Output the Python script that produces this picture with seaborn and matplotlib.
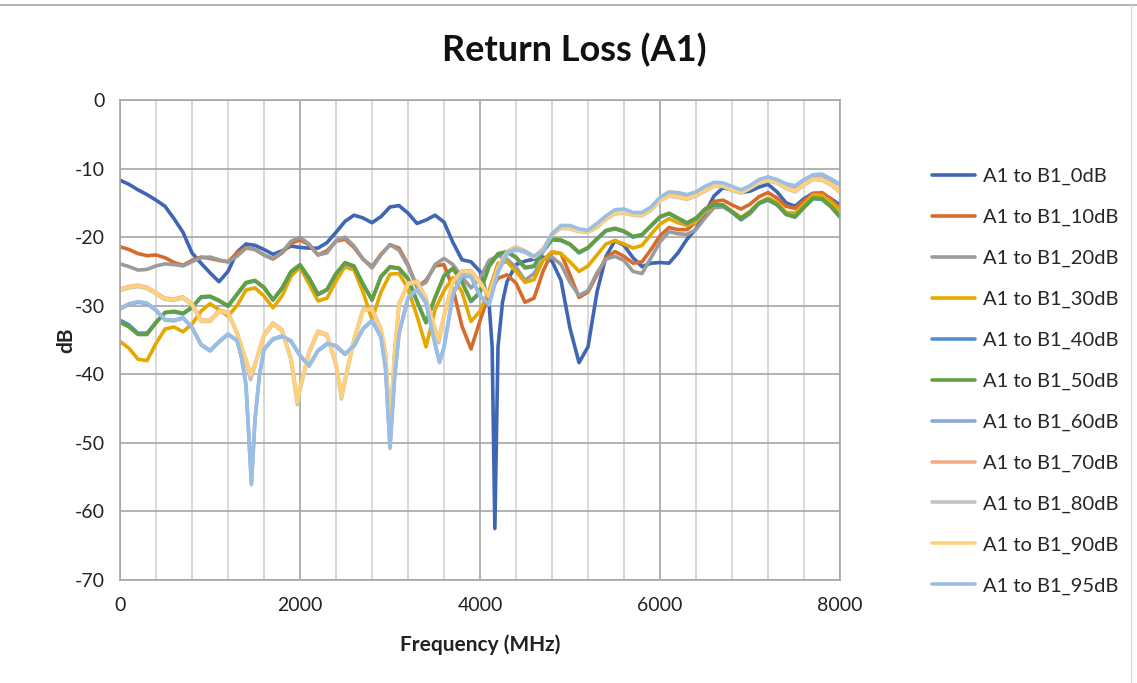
import matplotlib
matplotlib.use("Agg")
import matplotlib.pyplot as plt
from matplotlib.lines import Line2D
import pandas as pd
import seaborn as sns

# ---------------- data ----------------
FREQ = list(range(0, 8001, 100))  # MHz sampling grid

SERIES = ["A1 to B1_0dB", "A1 to B1_10dB", "A1 to B1_20dB", "A1 to B1_30dB",
          "A1 to B1_40dB", "A1 to B1_50dB", "A1 to B1_60dB", "A1 to B1_70dB",
          "A1 to B1_80dB", "A1 to B1_90dB", "A1 to B1_95dB"]

COLORS = ["#3F66B5", "#D86B2C", "#9B9B9B", "#E5A800", "#5090CF", "#62A03E",
          "#8AA6DA", "#F2AB85", "#C2C2C2", "#FFD27A", "#9BBFE4"]

db_0 = [-11.7, -12.3, -13.1, -13.8, -14.6, -15.5, -17.3, -19.3, -22.3, -23.8,
        -25.2, -26.5, -25.0, -22.2, -21.0, -21.2, -21.8, -22.5, -22.0, -21.3,
        -21.5, -21.6, -21.6, -20.8, -19.3, -17.7, -16.8, -17.2, -17.9, -17.0,
        -15.6, -15.4, -16.5, -18.0, -17.5, -16.8, -17.8, -20.8, -23.3, -23.6,
        -25.0, -29.5, -36.0, -26.5, -24.0, -23.5, -23.2, -22.9, -23.5, -26.3,
        -33.3, -38.3, -36.0, -28.0, -22.8, -20.5, -21.2, -23.0, -24.3, -23.8,
        -23.7, -23.8, -22.3, -20.3, -18.8, -16.5, -14.0, -12.8, -13.1, -13.5,
        -13.3, -12.7, -12.3, -13.4, -15.0, -15.5, -14.4, -13.6, -13.6, -14.4,
        -15.3]
extra_f_0 = [4135, 4165, 4250]
extra_db_0 = [-36.0, -62.5, -29.5]

db_10 = [-21.4, -21.8, -22.4, -22.7, -22.6, -23.0, -23.7, -24.1, -23.4, -22.9,
         -23.1, -23.4, -23.6, -22.3, -21.5, -21.8, -22.6, -23.2, -22.3, -20.9,
         -20.4, -21.1, -22.6, -22.0, -20.6, -20.3, -21.5, -23.2, -24.3, -22.5,
         -21.1, -21.6, -24.0, -27.3, -26.3, -24.2, -24.0, -27.5, -33.0, -36.3,
         -32.2, -28.3, -26.0, -25.5, -26.7, -29.5, -28.9, -25.0, -22.2, -22.4,
         -25.5, -28.8, -28.0, -25.5, -23.0, -22.1, -22.8, -23.8, -23.6, -21.8,
         -19.8, -18.6, -18.9, -18.9, -17.8, -16.0, -14.8, -14.6, -15.3, -15.9,
         -15.2, -14.1, -13.5, -14.3, -15.5, -15.8, -14.7, -13.7, -13.5, -14.5,
         -15.8]

db_20 = [-23.9, -24.3, -24.8, -24.7, -24.2, -23.9, -24.0, -24.2, -23.6, -23.0,
         -22.9, -23.3, -23.6, -22.8, -21.6, -21.8, -22.6, -23.1, -22.2, -20.6,
         -20.0, -21.0, -22.6, -22.3, -20.5, -20.0, -21.3, -23.2, -24.5, -22.6,
         -21.1, -21.9, -24.2, -27.3, -26.6, -24.0, -23.1, -24.0, -25.8, -27.4,
         -26.0, -23.4, -22.7, -23.2, -24.4, -26.3, -25.3, -23.3, -22.9, -24.0,
         -26.6, -28.5, -27.8, -25.2, -23.2, -22.8, -23.4, -25.0, -25.3, -23.0,
         -20.7, -19.2, -19.5, -19.6, -18.9, -17.2, -15.7, -15.6, -16.3, -17.5,
         -16.6, -15.1, -14.5, -15.2, -16.5, -17.0, -15.6, -14.3, -14.3, -15.4,
         -16.8]

db_30 = [-35.2, -36.2, -37.8, -38.0, -35.5, -33.4, -33.1, -33.8, -32.7, -30.8,
         -29.7, -30.6, -31.5, -30.0, -27.7, -27.4, -28.6, -30.3, -28.6, -25.7,
         -24.4, -26.8, -29.3, -28.9, -26.4, -24.3, -24.8, -28.0, -32.0, -28.0,
         -25.4, -25.3, -27.5, -31.5, -36.0, -30.6, -27.8, -25.9, -28.0, -32.3,
         -30.8, -27.8, -23.8, -23.6, -25.0, -26.6, -26.2, -23.4, -22.1, -22.4,
         -23.6, -25.0, -24.2, -22.6, -21.0, -20.5, -21.0, -21.6, -21.2, -19.6,
         -18.1, -17.3, -17.9, -18.3, -17.8, -16.3, -15.4, -15.4, -16.2, -17.1,
         -16.3, -15.0, -14.3, -14.9, -16.4, -16.5, -15.2, -13.8, -13.9, -14.9,
         -16.0]

db_40 = [-32.1, -32.8, -34.0, -34.0, -32.4, -31.0, -30.9, -31.2, -30.3, -28.8,
         -28.7, -29.3, -30.1, -28.4, -26.7, -26.4, -27.4, -29.2, -27.5, -25.1,
         -24.1, -26.0, -28.4, -27.7, -25.4, -23.8, -24.3, -26.9, -29.2, -25.8,
         -24.4, -24.6, -26.1, -29.4, -32.5, -28.9, -25.7, -24.6, -26.6, -29.4,
         -28.1, -24.3, -22.5, -22.2, -23.0, -24.5, -24.3, -22.1, -20.4, -20.5,
         -21.1, -22.3, -21.6, -20.3, -19.1, -18.8, -19.2, -20.0, -19.7, -18.4,
         -17.1, -16.6, -17.3, -18.0, -17.3, -16.0, -15.3, -15.4, -16.4, -17.4,
         -16.4, -15.1, -14.6, -15.3, -16.7, -17.1, -15.7, -14.4, -14.5, -15.6,
         -17.1]

db_50 = [-32.4, -33.1, -34.2, -34.2, -32.5, -31.0, -30.8, -31.1, -30.2, -28.7,
         -28.6, -29.2, -30.0, -28.3, -26.6, -26.3, -27.3, -29.1, -27.4, -25.0,
         -24.0, -25.9, -28.3, -27.6, -25.3, -23.7, -24.2, -26.8, -29.1, -25.7,
         -24.3, -24.5, -26.0, -29.3, -32.4, -28.8, -25.6, -24.5, -26.5, -29.3,
         -28.0, -24.2, -22.4, -22.1, -22.9, -24.4, -24.2, -22.0, -20.3, -20.4,
         -21.0, -22.2, -21.5, -20.2, -19.0, -18.7, -19.1, -19.9, -19.6, -18.3,
         -17.0, -16.5, -17.2, -17.9, -17.2, -15.9, -15.2, -15.3, -16.3, -17.3,
         -16.3, -15.0, -14.5, -15.2, -16.6, -17.0, -15.6, -14.3, -14.4, -15.5,
         -17.0]

db_60 = [-30.5, -29.8, -29.5, -29.7, -30.7, -32.1, -32.2, -31.8, -33.2, -35.7,
         -36.6, -35.3, -34.2, -35.1, -41.6, -46.6, -36.4, -34.9, -34.5, -35.2,
         -37.3, -38.8, -36.6, -35.6, -35.9, -37.1, -35.9, -33.4, -32.2, -34.6,
         -50.5, -34.1, -28.9, -27.7, -29.6, -35.6, -36.1, -28.4, -25.6, -25.8,
         -28.6, -29.9, -25.1, -22.4, -21.8, -22.2, -22.9, -22.1, -19.6, -18.4,
         -18.4, -18.9, -19.1, -18.1, -17.0, -16.1, -16.0, -16.5, -16.5, -15.7,
         -14.3, -13.5, -13.6, -13.9, -13.5, -12.7, -12.1, -12.2, -12.7, -13.2,
         -12.6, -11.7, -11.3, -11.7, -12.3, -12.6, -11.7, -11.0, -10.9, -11.6,
         -12.4]
extra_f_60 = [1350, 1460, 1550, 2950, 3050, 3550]
extra_db_60 = [-37.6, -55.8, -40.1, -39.1, -40.6, -38.2]

db_70 = [-27.6, -27.2, -27.0, -27.3, -28.1, -28.9, -29.0, -28.7, -29.7, -32.1,
         -32.1, -30.7, -30.9, -33.9, -37.9, -38.5, -34.2, -32.5, -33.5, -37.7,
         -41.9, -36.7, -33.7, -34.2, -38.4, -40.7, -34.9, -30.5, -30.4, -33.4,
         -47.8, -29.7, -26.7, -26.4, -28.9, -33.4, -31.4, -26.4, -24.9, -24.9,
         -26.5, -28.5, -24.4, -22.1, -21.4, -22.0, -22.8, -21.7, -19.5, -18.5,
         -18.6, -19.0, -19.1, -18.4, -17.2, -16.4, -16.3, -16.6, -16.7, -15.9,
         -14.5, -13.8, -14.0, -14.3, -13.8, -13.1, -12.4, -12.4, -13.0, -13.4,
         -12.7, -11.9, -11.6, -11.9, -12.7, -13.2, -12.2, -11.4, -11.5, -12.2,
         -13.3]
extra_f_70 = [1450, 1970, 2460, 2950, 3050, 3540]
extra_db_70 = [-40.0, -43.8, -43.1, -36.9, -36.9, -34.9]

db_80 = [-27.8, -27.4, -27.2, -27.5, -28.3, -29.1, -29.2, -28.9, -29.9, -32.3,
         -32.3, -30.9, -31.1, -34.1, -38.3, -38.8, -34.4, -32.7, -33.7, -37.9,
         -42.3, -36.9, -33.9, -34.4, -38.7, -41.1, -35.1, -30.7, -30.6, -33.6,
         -48.4, -29.9, -26.9, -26.6, -29.1, -33.7, -31.6, -26.6, -25.1, -25.1,
         -26.7, -28.7, -24.6, -22.3, -21.6, -22.2, -23.0, -21.9, -19.7, -18.7,
         -18.8, -19.2, -19.3, -18.6, -17.4, -16.6, -16.5, -16.8, -16.9, -16.1,
         -14.7, -14.0, -14.2, -14.5, -14.0, -13.3, -12.6, -12.6, -13.2, -13.6,
         -12.9, -12.1, -11.8, -12.1, -12.9, -13.4, -12.4, -11.6, -11.7, -12.4,
         -13.5]
extra_f_80 = [1450, 1970, 2460, 2950, 3050, 3540]
extra_db_80 = [-40.8, -44.4, -43.6, -37.4, -37.3, -35.4]

db_90 = [-27.7, -27.3, -27.1, -27.4, -28.2, -29.0, -29.1, -28.8, -29.8, -32.2,
         -32.2, -30.8, -31.0, -34.0, -38.0, -38.6, -34.3, -32.6, -33.6, -37.8,
         -42.0, -36.8, -33.8, -34.3, -38.5, -40.8, -35.0, -30.6, -30.5, -33.5,
         -48.0, -29.8, -26.8, -26.5, -29.0, -33.5, -31.5, -26.5, -25.0, -25.0,
         -26.6, -28.6, -24.5, -22.2, -21.5, -22.1, -22.9, -21.8, -19.6, -18.6,
         -18.7, -19.1, -19.2, -18.5, -17.3, -16.5, -16.4, -16.7, -16.8, -16.0,
         -14.6, -13.9, -14.1, -14.4, -13.9, -13.2, -12.5, -12.5, -13.1, -13.5,
         -12.8, -12.0, -11.7, -12.0, -12.8, -13.3, -12.3, -11.5, -11.6, -12.3,
         -13.4]
extra_f_90 = [1450, 1970, 2460, 2950, 3050, 3540]
extra_db_90 = [-40.1, -44.0, -43.3, -37.0, -37.0, -35.0]

db_95 = [-30.4, -29.7, -29.4, -29.6, -30.6, -32.0, -32.1, -31.7, -33.1, -35.6,
         -36.5, -35.2, -34.1, -35.0, -41.5, -46.5, -36.3, -34.8, -34.4, -35.1,
         -37.2, -38.7, -36.5, -35.5, -35.8, -37.0, -35.8, -33.3, -32.1, -34.5,
         -50.8, -34.0, -28.8, -27.6, -29.5, -35.5, -36.0, -28.3, -25.5, -25.7,
         -28.5, -29.8, -25.0, -22.3, -21.7, -22.1, -22.8, -22.0, -19.5, -18.3,
         -18.3, -18.8, -19.0, -18.0, -16.9, -16.0, -15.9, -16.4, -16.4, -15.6,
         -14.2, -13.4, -13.5, -13.8, -13.4, -12.6, -12.0, -12.1, -12.6, -13.1,
         -12.5, -11.6, -11.2, -11.6, -12.2, -12.5, -11.6, -10.9, -10.8, -11.5,
         -12.3]
extra_f_95 = [1350, 1460, 1550, 2950, 3050, 3550]
extra_db_95 = [-37.5, -56.1, -40.0, -39.0, -40.5, -38.3]

VALUES = [db_0, db_10, db_20, db_30, db_40, db_50, db_60, db_70, db_80, db_90, db_95]
EXTRAS = [(extra_f_0, extra_db_0), ([], []), ([], []), ([], []), ([], []), ([], []),
          (extra_f_60, extra_db_60), (extra_f_70, extra_db_70), (extra_f_80, extra_db_80),
          (extra_f_90, extra_db_90), (extra_f_95, extra_db_95)]

rows = []
for name, vals, (ef, ev) in zip(SERIES, VALUES, EXTRAS):
    for f, v in zip(FREQ + ef, vals + ev):
        rows.append((name, f, v))
df = pd.DataFrame(rows, columns=["series", "freq", "db"])

# ---------------- plot ----------------
sns.set_theme(style="white")
plt.rcParams["font.family"] = ["Lato", "DejaVu Sans"]
plt.rcParams["axes.unicode_minus"] = False

W, H = 1137, 683
fig = plt.figure(figsize=(W / 100, H / 100), dpi=100)
fig.patch.set_facecolor("white")
ax = fig.add_axes([120 / W, 1 - 580 / H, 720 / W, 480 / H])

sns.lineplot(data=df, x="freq", y="db", hue="series", hue_order=SERIES,
             palette=COLORS, estimator=None, sort=True, linewidth=2.6,
             solid_joinstyle="round", solid_capstyle="round", ax=ax, legend=False)

ax.set_xlim(0, 8000)
ax.set_ylim(-70, 0)
ax.set_xticks(range(0, 8001, 2000))
ax.set_xticks(range(0, 8001, 400), minor=True)
ax.set_yticks(range(-70, 1, 10))
ax.set_axisbelow(True)
ax.grid(which="major", color="#A6A6A6", linewidth=1.2)
ax.grid(which="minor", axis="x", color="#D4D4D4", linewidth=1.2)
for s in ax.spines.values():
    s.set_color("#A6A6A6")
    s.set_linewidth(1.2)
ax.tick_params(which="both", length=0, labelsize=14, colors="#222222")
ax.tick_params(axis="y", pad=11)
ax.tick_params(axis="x", pad=12)

ax.set_xlabel("Frequency (MHz)", fontsize=15, fontweight="bold", color="#222222")
ax.set_ylabel("dB", fontsize=15, fontweight="bold", color="#222222")
ax.xaxis.set_label_coords(0.5, -(645 - 580) / 480)
ax.xaxis.label.set_va("center")
ax.yaxis.set_label_coords(-(120 - 66) / 720, 0.5)
ax.yaxis.label.set_va("center")

fig.text(574 / W, 1 - 50 / H, "Return Loss (A1)", ha="center", va="center",
         fontsize=26, fontweight="bold", color="#111111")

handles = [Line2D([0], [0], color=c, lw=2.6) for c in COLORS]
fig.legend(handles, SERIES, loc="upper left", bbox_to_anchor=(932 / W, 1 - 168 / H),
           frameon=False, fontsize=14.5, handlelength=2.15, handletextpad=0.4,
           labelspacing=1.17, borderaxespad=0, borderpad=0)

fig.add_artist(Line2D([0, 1], [1 - 5 / H, 1 - 5 / H], transform=fig.transFigure,
                      color="#A6A6A6", lw=1.2))
fig.add_artist(Line2D([1131 / W, 1131 / W], [0, 1 - 5 / H], transform=fig.transFigure,
                      color="#D9D9D9", lw=1.0))

fig.savefig("out.png", dpi=100, facecolor="white")
